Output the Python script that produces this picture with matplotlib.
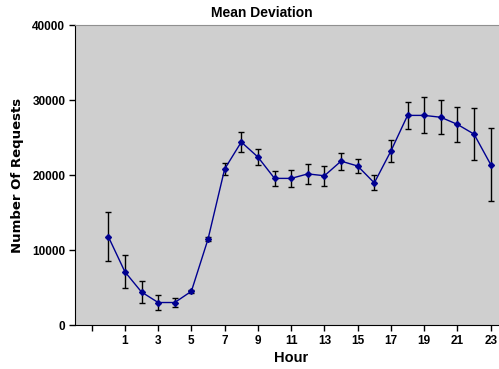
import numpy as np
import matplotlib
matplotlib.use('Agg')
import matplotlib.pyplot as plt

# hourly mean and deviation
hours = np.arange(24)
meanReq = [11800, 7100, 4400, 3000, 3000, 4500, 11450, 20800, 24400, 22400,
           19550, 19550, 20150, 19900, 21850, 21200, 18950, 23200, 27950, 27950,
           27700, 26750, 25450, 21400]
devReq = [3300, 2200, 1500, 1000, 650, 200, 250, 850, 1300, 1080,
          1000, 1100, 1380, 1300, 1150, 900, 1000, 1450, 1850, 2400,
          2270, 2350, 3500, 4930]
xticks = [-1, 1, 3, 5, 7, 9, 11, 13, 15, 17, 19, 21, 23]
xticklabels = [''] + [str(h) for h in xticks[1:]]
yticks = [0, 10000, 20000, 30000, 40000]

narrow = ['Liberation Sans', 'DejaVu Sans']

fig1 = plt.figure(figsize=(4.99, 3.69), dpi=100)
ax1 = fig1.add_axes([0.1503, 0.1192, 0.8497, 0.813])
ax1.set_facecolor('#cfcfcf')

ax1.errorbar(hours, meanReq, yerr=devReq, fmt='none', ecolor='black',
             elinewidth=1, capsize=2, capthick=1, zorder=2)
ax1.plot(hours, meanReq, c='#000090', lw=1, marker='D', ms=3, zorder=3)

ax1.set_xlim(-2, 23.5)
ax1.set_ylim(0, 40000)
ax1.set_xticks(xticks)
ax1.set_xticklabels(xticklabels, fontsize=8.5, fontweight='bold', family=narrow)
ax1.set_yticks(yticks)
ax1.set_yticklabels([str(v) for v in yticks], fontsize=8.5, fontweight='bold', family=narrow)
ax1.tick_params(direction='out', length=4, width=1, pad=3)

ax1.spines['top'].set_color('#909090')
ax1.spines['right'].set_visible(False)

fig1.text(262/499, 1 - 13/369, 'Mean Deviation', fontsize=10, fontweight='bold',
          family=narrow, ha='center', va='center')
fig1.text(18/499, 1 - 175/369, 'Number Of Requests', fontsize=9.5, fontweight='bold',
          rotation=90, ha='center', va='center')
fig1.text(291/499, 1 - 358/369, 'Hour', fontsize=10.5, fontweight='bold',
          family=narrow, ha='center', va='center')

fig1.savefig('out.png', dpi=100)
